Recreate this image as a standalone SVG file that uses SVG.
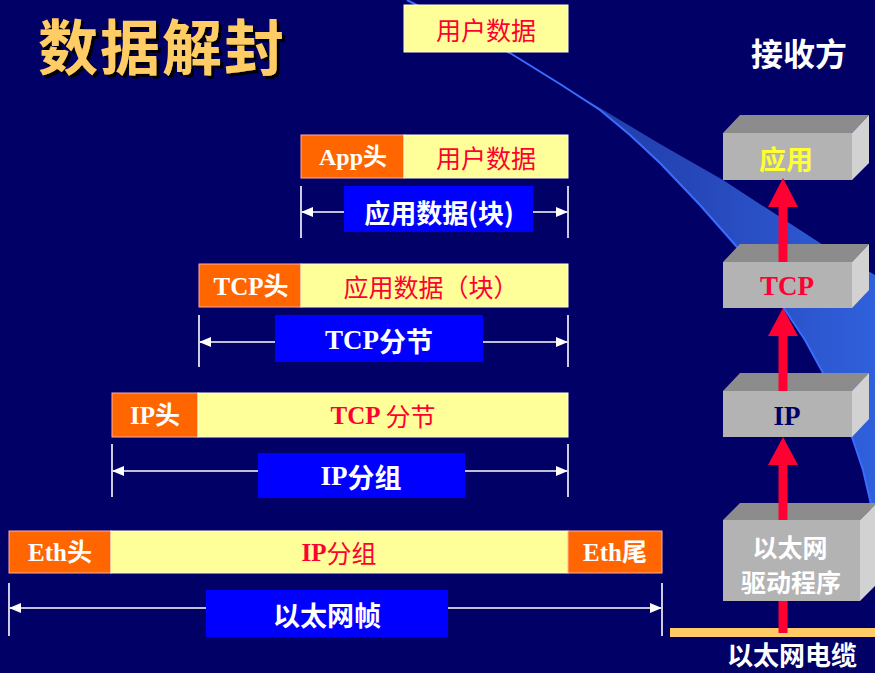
<svg xmlns="http://www.w3.org/2000/svg" width="875" height="673" viewBox="0 0 875 673">
<defs>
<linearGradient id="sw" x1="0" y1="0" x2="1" y2="0">
<stop offset="0" stop-color="#18308e"/>
<stop offset="0.6" stop-color="#2646b8"/>
<stop offset="1" stop-color="#3060dc"/>
</linearGradient>
<marker id="ah" viewBox="0 0 12 10" refX="11" refY="5" markerWidth="12" markerHeight="10" markerUnits="userSpaceOnUse" orient="auto-start-reverse">
<path d="M0,0 L12,5 L0,10 Z" fill="#ffffff"/>
</marker>
<filter id="shd" x="-5%" y="-5%" width="115%" height="130%">
<feDropShadow dx="3" dy="3" stdDeviation="0.6" flood-color="#000000" flood-opacity="1"/>
</filter>
</defs>
<style>
.cjk{font-family:"Noto Sans CJK SC","Liberation Sans",sans-serif}
.mix{font-family:"Liberation Serif","Noto Sans CJK SC",serif;font-weight:bold}
.hdr{fill:#FF6600;stroke:#FFB0A0;stroke-width:1}
.pay{fill:#FFFF99;stroke:#FFFFE0;stroke-width:1}
.lbl{fill:#0000FF}
.wt{fill:#ffffff}
.rd{fill:#FF0033}
.dim{stroke:#ffffff;stroke-width:1.6;fill:none}
.tick{stroke:#ffffff;stroke-width:1.6}
.top{fill:#8C8C8C}
.front{fill:#B3B3B3}
.side{fill:#D2D2D2}
.rarr{fill:#FF0033}
text{dominant-baseline:central;text-anchor:middle}
</style>
<rect x="0" y="0" width="875" height="673" fill="#000066"/>
<g id="swoosh">
<path d="M407,0 L460,27 L510,53 L560,84 L660,144 L723,180 L820,243 L875,275 L875,525 L870,500 L863,470 L853,440 L840,405 L823,373 L805,340 L783,307 L760,276 L737,247 L700,205 L660,163 L630,135 L600,110 L560,84 L510,53 L460,27 Z" fill="url(#sw)"/>
<path d="M407,0 L460,27 L510,53 L560,84 L600,110 L630,135 L660,163 L700,205 L737,247 L760,276 L783,307 L805,340 L823,373 L840,405 L853,440 L863,470 L870,500 L875,525" fill="none" stroke="#3a6cff" stroke-width="2"/>
</g>
<g id="title">
<text x="162" y="43" class="cjk" font-size="60" font-weight="bold" fill="#FFCC66" filter="url(#shd)" letter-spacing="2">数据解封</text>
</g>
<g id="receiver-label">
<text x="799" y="52" class="cjk" font-size="32" font-weight="bold" fill="#ffffff">接收方</text>
</g>
<g id="user-data">
<rect x="404" y="5" width="164" height="47" class="pay"/>
<text x="486" y="29" class="cjk rd" font-size="25">用户数据</text>
</g>
<g id="app-row">
<rect x="301" y="135" width="103" height="43" class="hdr"/>
<rect x="404" y="135" width="164" height="43" class="pay"/>
<text x="353" y="157" class="mix wt" font-size="24">App头</text>
<text x="486" y="157" class="cjk rd" font-size="25">用户数据</text>
</g>
<g id="tcp-row">
<rect x="199" y="264" width="102" height="43" class="hdr"/>
<rect x="301" y="264" width="267" height="43" class="pay"/>
<text x="251" y="286" class="mix wt" font-size="25">TCP头</text>
<text x="431" y="286" class="cjk rd" font-size="25">应用数据（块）</text>
</g>
<g id="ip-row">
<rect x="112" y="393" width="86" height="44" class="hdr"/>
<rect x="198" y="393" width="370" height="44" class="pay"/>
<text x="155" y="415" class="mix wt" font-size="25">IP头</text>
<text x="383" y="415" class="rd" font-size="25"><tspan class="mix">TCP </tspan><tspan class="cjk">分节</tspan></text>
</g>
<g id="eth-row">
<rect x="9" y="531" width="102" height="42" class="hdr"/>
<rect x="111" y="531" width="457" height="42" class="pay"/>
<rect x="568" y="531" width="94" height="42" class="hdr"/>
<text x="60" y="552" class="mix wt" font-size="25">Eth头</text>
<text x="339" y="552" class="rd" font-size="25"><tspan class="mix">IP</tspan><tspan class="cjk">分组</tspan></text>
<text x="615" y="552" class="mix wt" font-size="25">Eth尾</text>
</g>
<g id="connectors">
<line x1="301" y1="186" x2="301" y2="238" class="tick"/>
<line x1="568" y1="186" x2="568" y2="238" class="tick"/>
<line x1="302" y1="212" x2="567" y2="212" class="dim" marker-start="url(#ah)" marker-end="url(#ah)"/>
<line x1="199" y1="315" x2="199" y2="367" class="tick"/>
<line x1="568" y1="315" x2="568" y2="367" class="tick"/>
<line x1="200" y1="342" x2="567" y2="342" class="dim" marker-start="url(#ah)" marker-end="url(#ah)"/>
<line x1="112" y1="444" x2="112" y2="497" class="tick"/>
<line x1="568" y1="444" x2="568" y2="497" class="tick"/>
<line x1="113" y1="471" x2="567" y2="471" class="dim" marker-start="url(#ah)" marker-end="url(#ah)"/>
<line x1="9" y1="583" x2="9" y2="636" class="tick"/>
<line x1="662" y1="583" x2="662" y2="636" class="tick"/>
<line x1="10" y1="608" x2="661" y2="608" class="dim" marker-start="url(#ah)" marker-end="url(#ah)"/>
</g>
<g id="lbl-app">
<rect x="344" y="186" width="189" height="46" class="lbl"/>
<text x="439" y="211" class="cjk wt" font-size="26" font-weight="bold">应用数据(块)</text>
</g>
<g id="lbl-tcp">
<rect x="275" y="315" width="208" height="47" class="lbl"/>
<text x="379" y="340" class="wt" font-size="27"><tspan class="mix">TCP</tspan><tspan class="cjk" font-weight="bold">分节</tspan></text>
</g>
<g id="lbl-ip">
<rect x="258" y="453" width="207" height="45" class="lbl"/>
<text x="361" y="476" class="wt" font-size="27"><tspan class="mix">IP</tspan><tspan class="cjk" font-weight="bold">分组</tspan></text>
</g>
<g id="lbl-eth">
<rect x="206" y="590" width="242" height="47" class="lbl"/>
<text x="327" y="614" class="cjk wt" font-size="27" font-weight="bold">以太网帧</text>
</g>
<g id="cable">
<rect x="670" y="628" width="205" height="9" fill="#FFCC66"/>
<text x="792" y="653" class="cjk wt" font-size="26" font-weight="bold">以太网电缆</text>
</g>
<g id="box-app">
<polygon points="723,133 740,115 869,115 852,133" class="top"/>
<polygon points="852,133 869,115 869,163 852,180" class="side"/>
<rect x="723" y="133" width="129" height="47" class="front"/>
<text x="786" y="158" class="cjk" font-size="27" font-weight="bold" fill="#FFFF33">应用</text>
</g>
<g id="box-tcp">
<polygon points="723,262 740,244 869,244 852,262" class="top"/>
<polygon points="852,262 869,244 869,290 852,308" class="side"/>
<rect x="723" y="262" width="129" height="46" class="front"/>
<text x="787" y="286" class="mix" font-size="27" fill="#FF0033">TCP</text>
</g>
<g id="box-ip">
<polygon points="723,391 740,373 869,373 852,391" class="top"/>
<polygon points="852,391 869,373 869,419 852,437" class="side"/>
<rect x="723" y="391" width="129" height="46" class="front"/>
<text x="787" y="416" class="mix" font-size="27" fill="#000066">IP</text>
</g>
<g id="box-driver">
<polygon points="723,520 740,503 877,503 860,520" class="top"/>
<polygon points="860,520 877,503 877,584 860,601" class="side"/>
<rect x="723" y="520" width="137" height="81" class="front"/>
<text x="790" y="546" class="cjk wt" font-size="25" font-weight="bold">以太网</text>
<text x="791" y="581" class="cjk wt" font-size="25" font-weight="bold">驱动程序</text>
</g>
<g id="stack-arrows">
<path d="M783,178 L798,207 L787.5,207 L787.5,262 L778.5,262 L778.5,207 L768,207 Z" class="rarr"/>
<path d="M783,308 L798,336 L787.5,336 L787.5,391 L778.5,391 L778.5,336 L768,336 Z" class="rarr"/>
<path d="M783,437 L798,465 L787.5,465 L787.5,520 L778.5,520 L778.5,465 L768,465 Z" class="rarr"/>
<rect x="778.5" y="601" width="9" height="32" class="rarr"/>
</g>
</svg>
